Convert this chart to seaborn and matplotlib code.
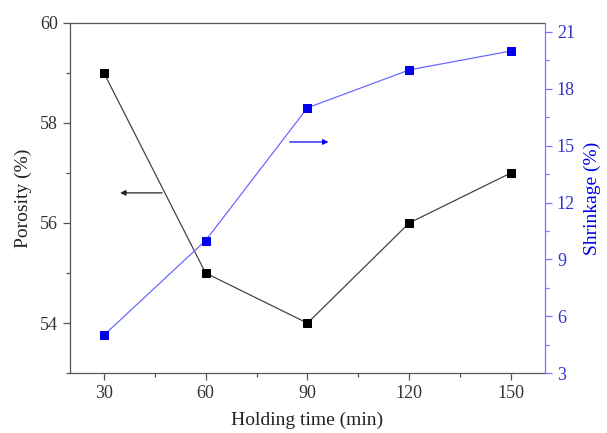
"""Porosity and shrinkage versus holding time (dual axis)."""

import matplotlib.pyplot as plt
import pandas as pd
import seaborn as sns
from matplotlib.ticker import MultipleLocator

holding_time = [30, 60, 90, 120, 150]
porosity = [59.0, 55.0, 54.0, 56.0, 57.0]
shrinkage = [5.0, 10.0, 17.0, 19.0, 20.0]

BLUE = "#0000ee"
GRAY = "#555555"

sns.set_style("white")
plt.rcParams["font.family"] = ["Liberation Serif", "DejaVu Serif"]

df = pd.DataFrame(
    {"time": holding_time, "porosity": porosity, "shrinkage": shrinkage}
)

fig, ax = plt.subplots(figsize=(6.07, 4.33), dpi=100)
fig.subplots_adjust(left=0.115, right=0.898, top=0.948, bottom=0.138)

sns.lineplot(
    data=df, x="time", y="porosity", ax=ax, color="#444444", linewidth=0.9,
    marker="s", markersize=5.5, markerfacecolor="black", markeredgecolor="black",
)
ax.set_xlim(20, 160)
ax.set_ylim(53, 60)
ax.xaxis.set_major_locator(MultipleLocator(30))
ax.xaxis.set_minor_locator(MultipleLocator(15))
ax.yaxis.set_major_locator(MultipleLocator(2))
ax.yaxis.set_minor_locator(MultipleLocator(1))
ax.set_xlabel("Holding time (min)", fontsize=14, color="#222222", labelpad=7)
ax.set_ylabel("Porosity (%)", fontsize=14, color="#222222", labelpad=6)
ax.tick_params(axis="both", which="major", direction="out", length=5,
               width=0.9, colors=GRAY, labelsize=13, labelcolor="#333333")
ax.tick_params(axis="both", which="minor", direction="out", length=3,
               width=0.9, colors=GRAY)
ax.tick_params(axis="x", which="both", bottom=True)
ax.tick_params(axis="y", which="both", left=True)
for side in ["left", "bottom", "top"]:
    ax.spines[side].set_color(GRAY)
    ax.spines[side].set_linewidth(0.9)
ax.spines["right"].set_visible(False)

ax2 = ax.twinx()
sns.lineplot(
    data=df, x="time", y="shrinkage", ax=ax2, color="#6a6aff", linewidth=0.9,
    marker="s", markersize=5.5, markerfacecolor=BLUE, markeredgecolor=BLUE,
)
ax2.set_ylim(3, 21.5)
ax2.yaxis.set_major_locator(MultipleLocator(3))
ax2.yaxis.set_minor_locator(MultipleLocator(1.5))
ax2.set_ylabel("Shrinkage (%)", fontsize=14, color=BLUE, labelpad=6)
ax2.tick_params(axis="y", which="major", direction="out", length=5,
                width=0.9, colors="#7777ff", labelsize=13, labelcolor="#3333cc",
                right=True)
ax2.tick_params(axis="y", which="minor", direction="out", length=3,
                width=0.9, colors="#7777ff", right=True)
for side in ["left", "bottom", "top"]:
    ax2.spines[side].set_visible(False)
ax2.spines["right"].set_color("#7777ff")
ax2.spines["right"].set_linewidth(0.9)

# direction arrows pointing to each series' axis
ax.annotate("", xy=(34, 56.6), xytext=(48, 56.6),
            arrowprops=dict(arrowstyle="-|>", color="#222222", lw=0.9,
                            mutation_scale=8))
ax2.annotate("", xy=(97, 15.2), xytext=(84, 15.2),
             arrowprops=dict(arrowstyle="-|>", color=BLUE, lw=0.9,
                             mutation_scale=8))

fig.savefig("out.png", dpi=100)
